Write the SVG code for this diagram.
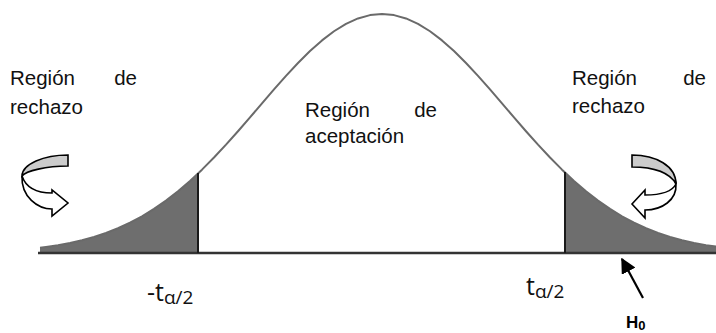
<svg xmlns="http://www.w3.org/2000/svg" width="716" height="333" viewBox="0 0 716 333">
<style>
.lbl{font-family:"Liberation Sans",Arial,sans-serif;font-size:20.5px;fill:#111}
.t{font-family:"Open Sans","Noto Sans",sans-serif;fill:#111}
.tail{fill:#6e6e6e;stroke:none}
.curve{fill:none;stroke:#6a6a6a;stroke-width:2;stroke-linejoin:round}
.cut{stroke:#1a1a1a;stroke-width:2}
.axis{stroke:#333;stroke-width:2.5}
.band{stroke:#000;stroke-width:1.6;stroke-linejoin:miter}
</style>
<defs>
<marker id="ah" viewBox="0 0 10 10" refX="9" refY="5" markerWidth="7" markerHeight="7" orient="auto"><path d="M0,0 L10,5 L0,10 Z" fill="#000"/></marker>
</defs>
<rect width="716" height="333" fill="#fff"/>
<g id="tail-left">
<polygon class="tail" points="40,253 40,247.7 46,246.92 58,245.13 70,242.91 82,240.19 94,236.89 106,232.93 118,228.22 130,222.69 142,216.27 154,208.92 166,200.58 178,191.24 190,180.93 198,173.5 198,253"/>
</g>
<g id="tail-right">
<polygon class="tail" points="565,253 565,172.56 574,180.93 586,191.24 598,200.58 610,208.92 622,216.27 634,222.69 646,228.22 658,232.93 670,236.89 682,240.19 694,242.91 706,245.13 718,246.92 718,253"/>
</g>
<g id="curve">
<polyline class="curve" points="40,247.7 46,246.92 58,245.13 70,242.91 82,240.19 94,236.89 106,232.93 118,228.22 130,222.69 142,216.27 154,208.92 166,200.58 178,191.24 190,180.93 198,173.5 202,169.67 214,157.55 226,144.68 238,131.22 250,117.38 262,103.36 274,89.44 286,75.89 298,63 310,51.08 322,40.4 334,31.25 346,23.86 358,18.44 370,15.12 382,14 394,15.12 406,18.44 418,23.86 430,31.25 442,40.4 454,51.08 466,63 478,75.89 490,89.44 502,103.36 514,117.38 526,131.22 538,144.68 550,157.55 562,169.67 565,172.56 574,180.93 586,191.24 598,200.58 610,208.92 622,216.27 634,222.69 646,228.22 658,232.93 670,236.89 682,240.19 694,242.91 706,245.13 718,246.92"/>
</g>
<g id="axis">
<line class="axis" x1="38" y1="253" x2="716" y2="253"/>
<line class="cut" x1="198" y1="173" x2="198" y2="253"/>
<line class="cut" x1="565" y1="172" x2="565" y2="253"/>
</g>
<g id="arrow-left">
<path class="band" fill="#cccccc" d="M68,155 C44,155 22,164 22,176 C26,171 46,166 68,166 Z"/>
<path class="band" fill="#ffffff" d="M22,176 C21,197 38,209 52,209 L52,216 L68,203 L52,190 L52,193 C38,193 26,188 22,176 Z"/>
</g>
<g id="arrow-right">
<path class="band" fill="#cccccc" d="M632,155 C656,155 676,166 676,184 C670,173 654,167 632,167 Z"/>
<path class="band" fill="#ffffff" d="M676,184 C677,200 662,210 645,210 L645,218 L632,204 L645,190 L645,195 C660,195 672,192 676,184 Z"/>
</g>
<g id="connectors">
<line x1="643" y1="298" x2="622" y2="259" stroke="#000" stroke-width="2.2" marker-end="url(#ah)"/>
</g>
<g id="text-left">
<text class="lbl" x="10" y="85">Región</text>
<text class="lbl" x="137" y="85" text-anchor="end">de</text>
<text class="lbl" x="10" y="114">rechazo</text>
</g>
<g id="text-center">
<text class="lbl" x="305" y="117">Región</text>
<text class="lbl" x="437" y="117" text-anchor="end">de</text>
<text class="lbl" x="305" y="143">aceptación</text>
</g>
<g id="text-right">
<text class="lbl" x="572" y="85">Región</text>
<text class="lbl" x="706" y="85" text-anchor="end">de</text>
<text class="lbl" x="572" y="113">rechazo</text>
</g>
<g id="label-neg">
<text class="t" x="147" y="301" font-size="25">-t<tspan font-size="19" dy="3">α/2</tspan></text>
</g>
<g id="label-pos">
<text class="t" x="526" y="295" font-size="25">t<tspan font-size="19" dy="3">α/2</tspan></text>
</g>
<g id="label-h0">
<text x="626" y="328" font-family="'Liberation Sans',Arial,sans-serif" font-weight="bold" font-size="17" fill="#000">H<tspan font-size="13" dy="2">0</tspan></text>
</g>
</svg>
